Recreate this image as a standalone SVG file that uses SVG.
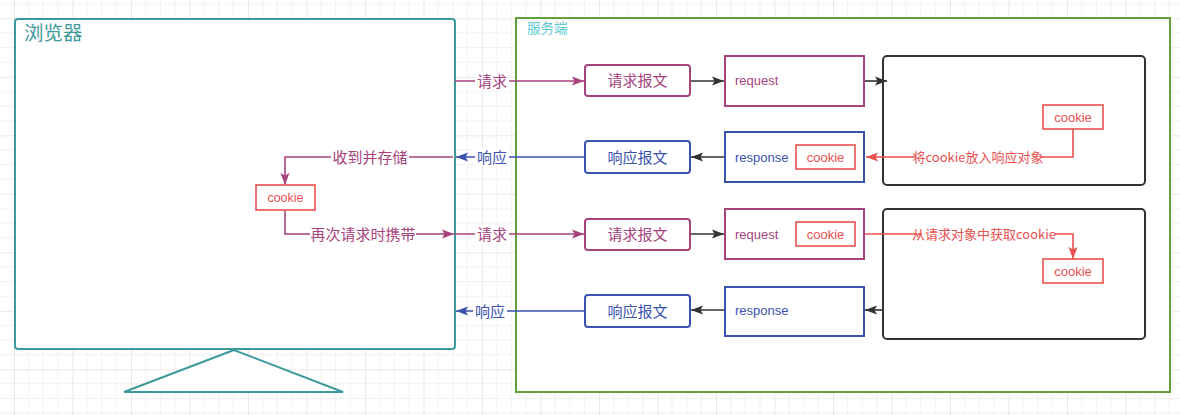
<svg xmlns="http://www.w3.org/2000/svg" width="1180" height="415" viewBox="0 0 1180 415">
<style>
.cn{font-family:"Noto Sans CJK SC","Liberation Sans",sans-serif}
.en{font-family:"Liberation Sans","Noto Sans",sans-serif}
.mg{fill:#a6437c}.bl{fill:#3a53b0}.rd{fill:#ea5050}
.box{fill:#fff;stroke-width:2}
.c{stroke:#ea5050;fill:#fff;stroke-width:1.6}
.lmg{stroke:#a6437c;fill:none;stroke-width:1.6}
.lbl{stroke:#3a53b0;fill:none;stroke-width:1.6}
.lrd{stroke:#ea5050;fill:none;stroke-width:1.6}
.lbk{stroke:#333;fill:none;stroke-width:1.6}
.bg{fill:#fff}
</style>
<defs>
<pattern id="grid" patternUnits="userSpaceOnUse" x="14" y="18.3" width="58.5" height="58.5">
<path d="M14.625 0V58.5M29.25 0V58.5M43.875 0V58.5M0 14.625H58.5M0 29.25H58.5M0 43.875H58.5" stroke="#f1f1f1" stroke-width="1"/>
<path d="M0.5 0V58.5M0 0.5H58.5" stroke="#e8e8e8" stroke-width="1"/>
</pattern>
<marker id="amg" viewBox="0 0 12 12" refX="12" refY="6" markerWidth="12" markerHeight="12" markerUnits="userSpaceOnUse" orient="auto"><path d="M0 1.5L12 6L0 10.5L2.5 6Z" fill="#a6437c"/></marker>
<marker id="abl" viewBox="0 0 12 12" refX="12" refY="6" markerWidth="12" markerHeight="12" markerUnits="userSpaceOnUse" orient="auto"><path d="M0 1.5L12 6L0 10.5L2.5 6Z" fill="#3a53b0"/></marker>
<marker id="ard" viewBox="0 0 12 12" refX="12" refY="6" markerWidth="12" markerHeight="12" markerUnits="userSpaceOnUse" orient="auto"><path d="M0 1.5L12 6L0 10.5L2.5 6Z" fill="#ea5050"/></marker>
<marker id="abk" viewBox="0 0 12 12" refX="12" refY="6" markerWidth="12" markerHeight="12" markerUnits="userSpaceOnUse" orient="auto"><path d="M0 1.5L12 6L0 10.5L2.5 6Z" fill="#333"/></marker>
</defs>
<rect width="1180" height="415" fill="#fff"/>
<rect width="1180" height="415" fill="url(#grid)"/>

<g id="browser">
<rect x="15" y="19" width="440" height="330" rx="3" fill="#fff" stroke="#3e9a9a" stroke-width="2"/>
<text x="24" y="40" class="cn" font-size="19.5" fill="#3e9a9a">浏览器</text>
<path d="M234 350L124 392H343Z" fill="#fff" stroke="#3e9a9a" stroke-width="2"/>
</g>

<g id="server">
<rect x="516" y="18" width="654" height="374" fill="#fff" stroke="#62a03c" stroke-width="2"/>
<text x="527" y="33" class="cn" font-size="13.5" fill="#5dcbd2">服务端</text>
</g>

<g id="proc1"><rect x="883" y="56" width="262" height="129" rx="4" fill="#fff" stroke="#2f3338" stroke-width="2"/></g>
<g id="proc2"><rect x="883" y="209" width="262" height="130" rx="4" fill="#fff" stroke="#2f3338" stroke-width="2"/></g>

<g id="connectors">
<line x1="455" y1="81" x2="584" y2="81" class="lmg" marker-end="url(#amg)"/>
<line x1="690" y1="81" x2="724" y2="81" class="lbk" marker-end="url(#abk)"/>
<line x1="864" y1="81" x2="887" y2="81" class="lbk" marker-end="url(#abk)"/>
<polyline points="1073,129 1073,157 866,157" class="lrd" marker-end="url(#ard)"/>
<line x1="725" y1="157" x2="691" y2="157" class="lbk" marker-end="url(#abk)"/>
<line x1="585" y1="157" x2="456" y2="157" class="lbl" marker-end="url(#abl)"/>
<polyline points="453,157 285,157 285,185" class="lmg" marker-end="url(#amg)"/>
<polyline points="285,211 285,234 454,234" class="lmg" marker-end="url(#amg)"/>
<line x1="455" y1="234" x2="584" y2="234" class="lmg" marker-end="url(#amg)"/>
<line x1="690" y1="234" x2="724" y2="234" class="lbk" marker-end="url(#abk)"/>
<polyline points="855,234 1073,234 1073,259" class="lrd" marker-end="url(#ard)"/>
<line x1="883" y1="310" x2="865" y2="310" class="lbk" marker-end="url(#abk)"/>
<line x1="725" y1="310" x2="691" y2="310" class="lbk" marker-end="url(#abk)"/>
<line x1="585" y1="311" x2="456" y2="311" class="lbl" marker-end="url(#abl)"/>
<rect x="475" y="72" width="34" height="18" class="bg"/>
<text x="492" y="86.5" class="cn mg" font-size="15" text-anchor="middle">请求</text>
<rect x="475" y="148" width="34" height="18" class="bg"/>
<text x="492" y="162.5" class="cn bl" font-size="15" text-anchor="middle">响应</text>
<rect x="331" y="148" width="78" height="18" class="bg"/>
<text x="370" y="162.5" class="cn mg" font-size="15" text-anchor="middle">收到并存储</text>
<rect x="310" y="225" width="106" height="18" class="bg"/>
<text x="363" y="239.5" class="cn mg" font-size="15" text-anchor="middle">再次请求时携带</text>
<rect x="475" y="225" width="34" height="18" class="bg"/>
<text x="492" y="239.5" class="cn mg" font-size="15" text-anchor="middle">请求</text>
<rect x="473" y="302" width="34" height="18" class="bg"/>
<text x="490" y="316.5" class="cn bl" font-size="15" text-anchor="middle">响应</text>
<rect x="916" y="149" width="124" height="17" class="bg"/>
<text x="978" y="162" class="cn rd" font-size="13" text-anchor="middle">将cookie放入响应对象</text>
<rect x="922" y="226" width="132" height="17" class="bg"/>
<text x="984" y="239" class="cn rd" font-size="13" text-anchor="middle">从请求对象中获取cookie</text>
</g>

<g id="req1">
<rect x="585" y="65" width="105" height="31" rx="3" class="box" stroke="#a6437c"/>
<text x="637.5" y="86" class="cn mg" font-size="15" text-anchor="middle">请求报文</text>
</g>
<g id="request1">
<rect x="725" y="56" width="139" height="50" class="box" stroke="#a6437c"/>
<text x="735" y="85" class="en mg" font-size="13">request</text>
</g>
<g id="resp1">
<rect x="585" y="141" width="105" height="32" rx="3" class="box" stroke="#3a53b0"/>
<text x="637.5" y="163" class="cn bl" font-size="15" text-anchor="middle">响应报文</text>
</g>
<g id="response1">
<rect x="725" y="132" width="139" height="50" class="box" stroke="#3a53b0"/>
<text x="735" y="162" class="en bl" font-size="13">response</text>
<rect x="796" y="145" width="59" height="24" class="c"/>
<text x="825.5" y="161.5" class="en rd" font-size="13" text-anchor="middle">cookie</text>
</g>
<g id="cookie-server1">
<rect x="1043" y="105" width="60" height="24" class="c"/>
<text x="1073" y="121.5" class="en rd" font-size="13" text-anchor="middle">cookie</text>
</g>
<g id="cookie-browser">
<rect x="256" y="185" width="59" height="25" class="c"/>
<text x="285.5" y="202" class="en rd" font-size="12.5" text-anchor="middle">cookie</text>
</g>
<g id="req2">
<rect x="585" y="219" width="105" height="31" rx="3" class="box" stroke="#a6437c"/>
<text x="637.5" y="240" class="cn mg" font-size="15" text-anchor="middle">请求报文</text>
</g>
<g id="request2">
<rect x="725" y="209" width="139" height="50" class="box" stroke="#a6437c"/>
<text x="735" y="239" class="en mg" font-size="13">request</text>
<rect x="796" y="222" width="59" height="24" class="c"/>
<text x="825.5" y="238.5" class="en rd" font-size="13" text-anchor="middle">cookie</text>
</g>
<g id="cookie-server2">
<rect x="1043" y="259" width="60" height="24" class="c"/>
<text x="1073" y="275.5" class="en rd" font-size="13" text-anchor="middle">cookie</text>
</g>
<g id="resp2">
<rect x="585" y="295" width="105" height="32" rx="3" class="box" stroke="#3a53b0"/>
<text x="637.5" y="317" class="cn bl" font-size="15" text-anchor="middle">响应报文</text>
</g>
<g id="response2">
<rect x="725" y="287" width="139" height="49" class="box" stroke="#3a53b0"/>
<text x="735" y="315" class="en bl" font-size="13">response</text>
</g>
</svg>
